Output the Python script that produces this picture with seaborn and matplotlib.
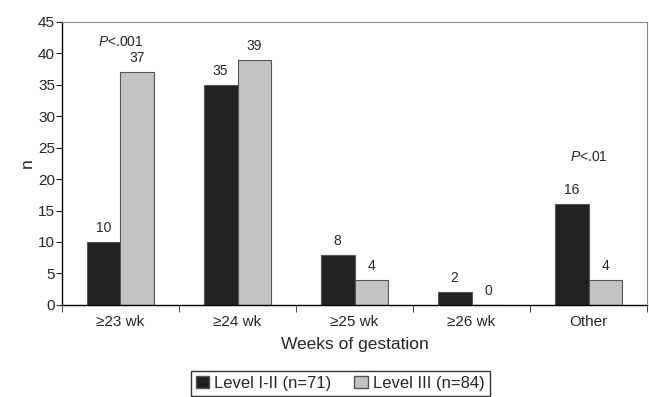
import numpy as np
import pandas as pd
import matplotlib
matplotlib.use("Agg")
import matplotlib.pyplot as plt
import seaborn as sns
from matplotlib.patches import Patch

# data
categories = ["\u226523 wk", "\u226524 wk", "\u226525 wk", "\u226526 wk", "Other"]
level_1_2 = [10, 35, 8, 2, 16]
level_3 = [37, 39, 4, 0, 4]
series_names = ["Level I-II (n=71)", "Level III (n=84)"]
p_labels = {0: "<.001", 4: "<.01"}

sns.set_style("white")
plt.rcParams["font.family"] = ["Liberation Sans", "DejaVu Sans"]
plt.rcParams["mathtext.fontset"] = "custom"
plt.rcParams["mathtext.it"] = "Liberation Sans:italic"
plt.rcParams["mathtext.rm"] = "Liberation Sans"

df = pd.DataFrame({
    "week": categories * 2,
    "n": level_1_2 + level_3,
    "group": [series_names[0]] * 5 + [series_names[1]] * 5,
})

colors = ["#231f20", "#c3c3c3"]

fig = plt.figure(figsize=(6.49, 3.97), dpi=100)
ax = fig.add_axes([0.0955, 0.232, 0.9015, 0.713])

sns.barplot(data=df, x="week", y="n", hue="group", palette=colors,
            width=0.58, edgecolor="#555555", linewidth=0.8, ax=ax, legend=False)

# value labels
for cont in ax.containers:
    ax.bar_label(cont, labels=[str(int(v)) for v in cont.datavalues],
                 padding=5, fontsize=10)

# p-values
ax.text(0, 41.8, r"$P$" + p_labels[0], ha="center", va="center", fontsize=10)
ax.text(4, 23.5, r"$P$" + p_labels[4], ha="center", va="center", fontsize=10)

ax.set_ylim(0, 45)
ax.set_xlim(-0.5, 4.5)
ax.set_yticks(np.arange(0, 46, 5))
ax.tick_params(axis="y", length=4, direction="out", left=True, labelsize=11, pad=1)
ax.tick_params(axis="x", which="major", length=0, labelsize=11, pad=7)
ax.set_xticks(np.arange(-0.5, 5, 1), minor=True)
ax.tick_params(axis="x", which="minor", length=5, direction="out", bottom=True)

for s in ["left", "bottom"]:
    ax.spines[s].set_color("black")
    ax.spines[s].set_linewidth(1.0)
for s in ["top", "right"]:
    ax.spines[s].set_color("#888888")
    ax.spines[s].set_linewidth(0.8)

ax.set_xlabel("Weeks of gestation", fontsize=12.5, labelpad=6)
ax.set_ylabel("n", fontsize=12.5, labelpad=2)

handles = [Patch(facecolor=colors[0], edgecolor="#555555"),
           Patch(facecolor=colors[1], edgecolor="#555555")]
leg = fig.legend(handles, series_names, loc="center", bbox_to_anchor=(0.524, 0.035),
                 ncol=2, frameon=True, fancybox=False, fontsize=12,
                 handlelength=0.8, handleheight=0.8, handletextpad=0.3,
                 columnspacing=1.4, borderpad=0.3)
leg.get_frame().set_edgecolor("black")
leg.get_frame().set_linewidth(1.0)

fig.savefig("out.png", dpi=100)
